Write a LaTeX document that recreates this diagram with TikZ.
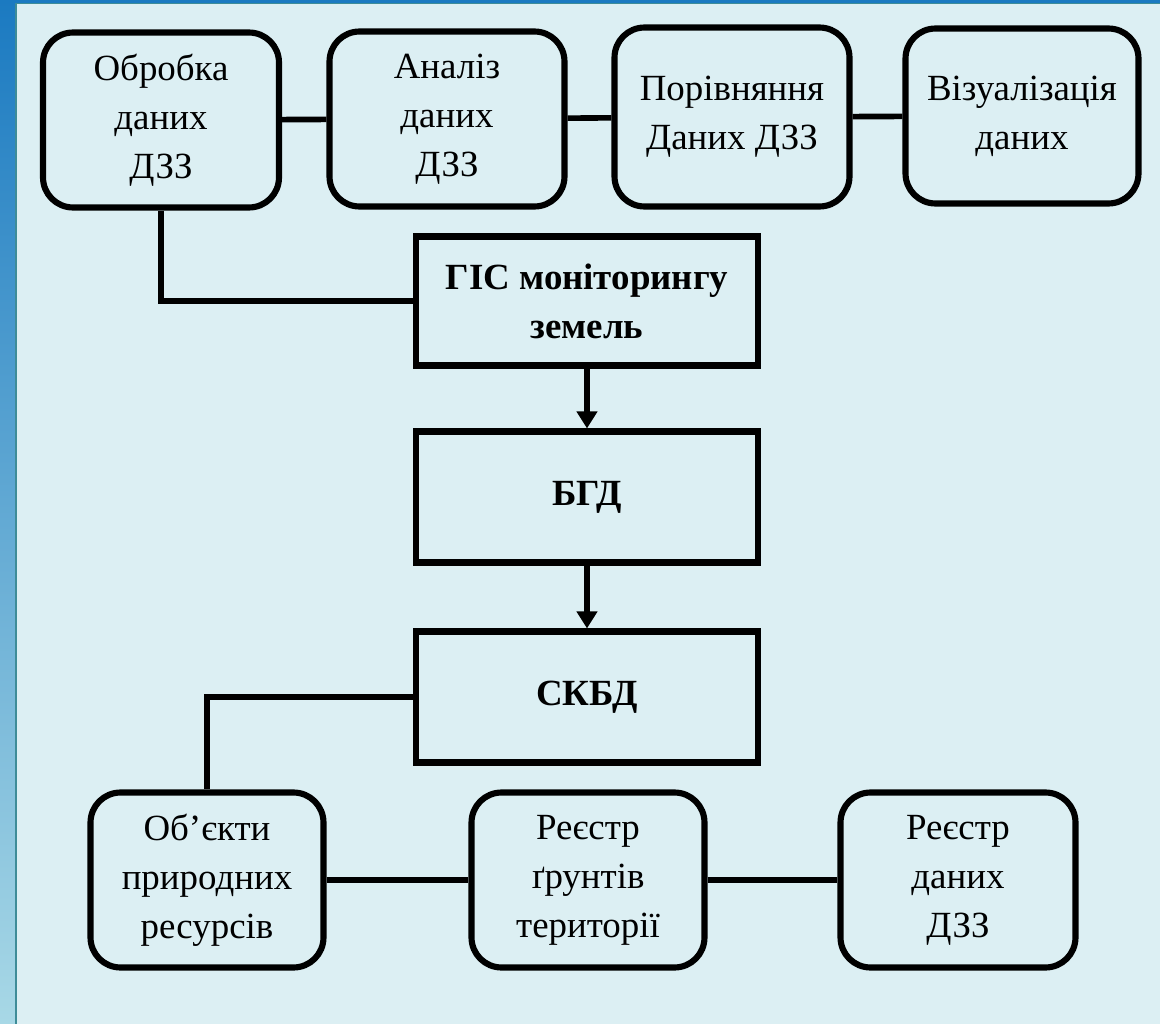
\documentclass[tikz,border=0pt]{standalone}
\usepackage{fontspec}
\setmainfont{Liberation Serif}
\usepackage{xcolor}
\usepackage{tikz}
\usetikzlibrary{arrows.meta, positioning}
\definecolor{slidebg}{RGB}{220, 239, 243}
\definecolor{stripdark}{RGB}{27, 122, 193}
\definecolor{striplight}{RGB}{168, 216, 230}
\definecolor{stripedge}{RGB}{62, 140, 152}

\begin{document}
\begin{tikzpicture}[
    x=0.02cm, y=-0.02cm,
    rbox/.style={draw, line width=3.5pt, rounded corners=0.6cm, align=center,
                 minimum width=#1, minimum height=3.5cm, inner sep=0pt,
                 font=\fontsize{21}{27.8}\selectfont},
    sbox/.style={draw, line width=3.5pt, align=center, minimum width=6.84cm,
                 minimum height=#1, inner sep=0pt,
                 font=\fontsize{21}{27.8}\selectfont\bfseries},
    conn/.style={line width=3.2pt},
    arr/.style={-{Triangle[length=0.34cm, width=0.4cm]}, line width=3.2pt}
]

%% ── Slide background ───────────────────────────────────────────────────
\fill[slidebg] (0,0) rectangle (1160,1024);
\shade[top color=stripdark, bottom color=striplight] (0,0) rectangle (15,1024);
\fill[stripedge] (15,0) rectangle (17,1024);
\fill[stripdark] (0,0) rectangle (1160,3);
\fill[stripedge] (15,3) rectangle (1160,4);
\useasboundingbox (0,0) rectangle (1160,1024);

%% ── Top row ────────────────────────────────────────────────────────────
\node[rbox=4.72cm] (obr)  at ( 161,120) {Обробка\\даних\\ДЗЗ};
\node[rbox=4.70cm] (anal) at ( 447,119) {Аналіз\\даних\\ДЗЗ};
\node[rbox=4.70cm, minimum height=3.58cm] (por) at ( 732,117) {Порівняння\\Даних ДЗЗ};
\node[rbox=4.66cm] (viz)  at (1022,116) {Візуалізація\\даних};

%% ── Central column ─────────────────────────────────────────────────────
\node[sbox=2.58cm] (gis)  at (587,301) {ГІС моніторингу\\земель};
\node[sbox=2.62cm] (bgd)  at (587,497) {БГД};
\node[sbox=2.62cm] (skbd) at (587,697) {СКБД};

%% ── Bottom row ─────────────────────────────────────────────────────────
\node[rbox=4.66cm] (obj)  at (207,880) {Об’єкти\\природних\\ресурсів};
\node[rbox=4.66cm] (reg1) at (588,880) {Реєстр\\ґрунтів\\території};
\node[rbox=4.70cm] (reg2) at (958,880) {Реєстр\\даних\\ДЗЗ};

%% ── Connectors ─────────────────────────────────────────────────────────
\draw[conn] (obr) -- (anal); \draw[conn] (anal) -- (por); \draw[conn] (por) -- (viz);
\draw[conn] (obr.south) |- (gis.west);
\draw[arr] (gis) -- (bgd); \draw[arr] (bgd) -- (skbd);
\draw[conn] (skbd.west) -| (obj.north);
\draw[conn] (obj) -- (reg1); \draw[conn] (reg1) -- (reg2);
\end{tikzpicture}
\end{document}
